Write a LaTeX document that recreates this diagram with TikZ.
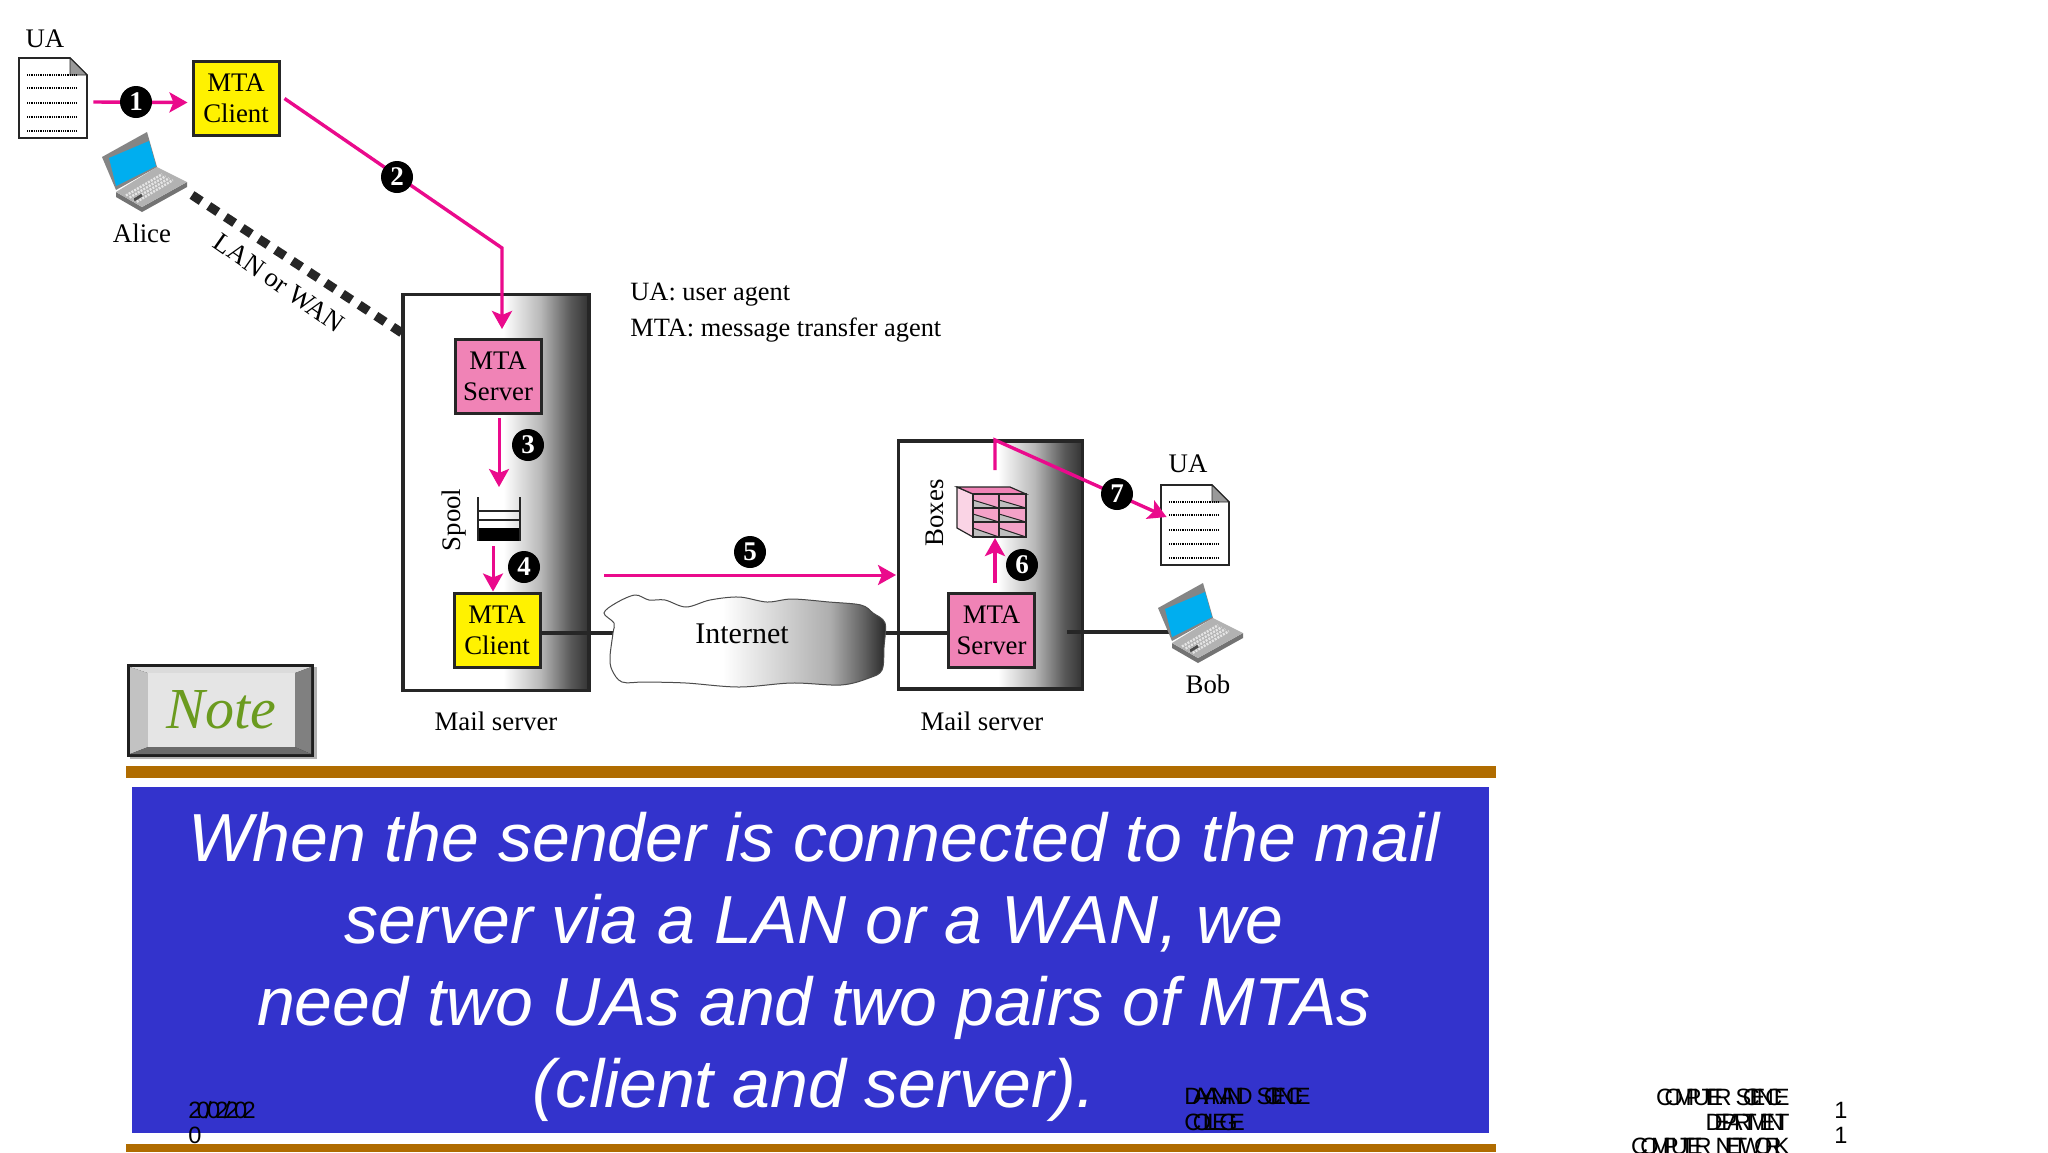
\documentclass[tikz,border=0pt]{standalone}
\usepackage{fontspec}
\setmainfont{Liberation Serif}
\newfontfamily\sansfont{Liberation Sans}
\newfontfamily\tightfont[LetterSpace=-36]{Liberation Sans}
\newfontfamily\looserfont[LetterSpace=-33]{Liberation Sans}
\newfontfamily\datefont[LetterSpace=-20]{Liberation Sans}
\usetikzlibrary{arrows.meta,calc}

\definecolor{flowpink}{HTML}{EA0A8C}
\definecolor{boxpink}{HTML}{F083B6}
\definecolor{boxyellow}{HTML}{FFF200}
\definecolor{barbrown}{HTML}{B06C00}
\definecolor{slideblue}{HTML}{3333CC}
\definecolor{notegreen}{HTML}{6B9B1F}
\definecolor{lapblue}{HTML}{00AEEF}

\pgfdeclarehorizontalshading{srvfade}{100bp}{
  color(0bp)=(white); color(52bp)=(white); color(62bp)=(black!28);
  color(70bp)=(black!65); color(75bp)=(black!80); color(100bp)=(black!80)}
\pgfdeclarehorizontalshading{cloudfade}{100bp}{
  color(0bp)=(white); color(46bp)=(white); color(65bp)=(black!32);
  color(71bp)=(black!62); color(75bp)=(black!85); color(100bp)=(black!85)}

\tikzset{
  txt/.style={font=\fontsize{13.4}{15.5}\selectfont, inner sep=0pt, align=center},
  mta/.style={draw=black!85, line width=1.5pt, inner sep=0pt, minimum width=43pt, minimum height=37pt, txt},
  server/.style={draw=black!85, line width=1.75pt, shading=srvfade, inner sep=0pt},
  flow/.style={draw=flowpink, line width=1.7pt, -{Stealth[length=9pt,width=10pt,inset=2pt]}},
  wire/.style={draw=black!85, line width=1.7pt},
  badge/.style={circle, fill=black, text=white, inner sep=0pt, minimum size=16pt,
    font=\bfseries\fontsize{13.5}{13.5}\selectfont},
  foot/.style={font=\tightfont\fontsize{11.8}{11.8}\selectfont, inner sep=0pt, text=black},
}

% page of text with folded corner, x y = top left
\newcommand{\docicon}[3]{
  \begin{scope}[shift={(#2,#3)}]
    \node[minimum width=34pt, minimum height=40pt, inner sep=0pt] (#1) at (34,40) {};
    \draw[fill=white, draw=black!85, line width=.8pt] (0,0) -- (51,0) -- (68,17) -- (68,80) -- (0,80) -- cycle;
    \draw[fill=black!40, draw=black!85, line width=.4pt] (51,0) -- (68,17) -- (51,17) -- cycle;
    \foreach \yy in {17,30,45,59,73}
      \draw[black, line width=.7pt, dash pattern=on .5pt off .4pt] (8,\yy) -- (58,\yy);
  \end{scope}
}

% laptop, x y = left corner of the lid
\newcommand{\laptopicon}[3]{
  \begin{scope}[shift={(#2,#3)}]
    \coordinate (#1) at (7,24);
    \fill[black!55] (14,35) -- (14,40) -- (40,55) -- (85,30) -- (85,25) -- (40,50) -- cycle;
    \fill[black!30] (14,35) -- (55,10) -- (85,25) -- (40,50) -- cycle;
    \foreach \tpos in {0.25,0.4,0.55,0.7}
      \draw[black!10, line width=1.2pt, dash pattern=on 1pt off .6pt]
        ($(18,35)!\tpos!(42,49)$) -- ($(54,14)!\tpos!(78,27)$);
    \draw[black!70, line width=1.4pt] (32,43) -- (40,38);
    \fill[black!48] (0,0) -- (45,-25) -- (55,10) -- (14,33) -- cycle;
    \fill[lapblue] (7,1) -- (47,-16) -- (54,9) -- (14,29) -- cycle;
  \end{scope}
}

\begin{document}
\begin{tikzpicture}[x=0.5pt, y=-0.5pt]
\clip (0,0) rectangle (2048,1152);
\fill[white] (0,0) rectangle (2048,1152);

% icons, left side
\node[txt] (ualeft) at (45,39) {UA};
\docicon{docleft}{19}{58}
\laptopicon{alice}{102}{157}
\node[txt] (alicetext) at (142,233) {Alice};
\node[mta, fill=boxyellow] (clienta) at (236,98.5) {MTA\\Client};

% mail server boxes
\node[server, minimum width=93pt, minimum height=198pt] (srva) at (496,492.5) {};
\node[server, minimum width=92pt, minimum height=124pt] (srvb) at (990.5,565) {};

% LAN or WAN
\coordinate (lanfrom) at (192,195);
\coordinate (lanto) at (402,333);
\draw[black!85, line width=4.5pt, dash pattern=on 5.5pt off 4.5pt] (lanfrom) -- (lanto);
\node[txt, rotate=-35] (lantext) at (279,283) {LAN or WAN};

\node[mta, fill=boxpink] (servera) at (498,376.5) {MTA\\Server};
\node[mta, fill=boxyellow] (clientb) at (497,630) {MTA\\Client};
\node[mta, fill=boxpink] (serverb) at (991.5,630) {MTA\\Server};

% spool
\node[txt, rotate=90] (spooltext) at (454,520) {Spool};
\fill[black] (478,528) rectangle (520,541);
\draw[black!85, line width=.8pt] (478,497) -- (478,541) (520,497) -- (520,541)
  (478,511) -- (520,511) (478,520) -- (520,520);

% mailboxes
\node[txt, rotate=90] (boxtext) at (935,513) {Boxes};
\fill[boxpink!35, draw=black!85, line width=.6pt] (957,487) -- (973,494) -- (973,537) -- (957,528) -- cycle;
\fill[boxpink, draw=black!85, line width=.6pt] (957,487) -- (1010,487) -- (1026,494) -- (973,494) -- cycle;
\foreach \xa/\xb in {973/999,999/1026}
  \foreach \ya/\yb in {494/508,508/522,522/537} {
    \fill[boxpink!75] (\xa,\ya) rectangle (\xb,\yb);
    \fill[black!25] (\xa,\ya+6) -- (\xb,\yb) -- (\xa,\yb) -- cycle;
    \draw[black!85, line width=.5pt] (\xa,\ya+6) -- (\xb,\yb);
    \draw[black!85, line width=.6pt] (\xa,\ya) rectangle (\xb,\yb);
  }

% right side icons
\node[txt] (uaright) at (1188,464) {UA};
\docicon{docright}{1161}{485}
\coordinate (boblan) at (1067,632);
\coordinate (bobend) at (1170,632);
\draw[wire] (boblan) -- (bobend);
\laptopicon{bob}{1158}{608}
\node[txt] (bobtext) at (1208,684) {Bob};

% wires and cloud
\coordinate (cloudin) at (614,633);
\coordinate (cloudout) at (880,633);
\draw[wire] ([yshift=-1.5pt]clientb.east) -- (cloudin);
\draw[wire] (cloudout) -- ([yshift=-1.5pt]serverb.west);
\path[shading=cloudfade, draw=black!70, line width=.5pt] plot[smooth cycle, tension=.55] coordinates {
  (604,613) (616,603) (635,595) (649,600) (665,600) (686,607) (710,600) (739,597)
  (767,602) (792,599) (829,602) (861,605) (873,613) (885,623) (884,647) (882,670)
  (869,678) (841,685) (792,683) (739,687) (686,683) (645,682) (622,682) (612,670)
  (610,657) (613,633) (614,623)};
\node[txt, font=\fontsize{15}{15}\selectfont] (internet) at (742,634) {Internet};

% message path
\coordinate (knee) at (502,248);
\coordinate (fivefrom) at (604,575);
\coordinate (fiveto) at (896,575);
\coordinate (spoolin) at (499,487);
\coordinate (spoolout) at (493,546);
\coordinate (boxin) at (995,538);
\coordinate (sevenfoot) at (995,470);
\coordinate (sevenknee) at (995,440);
\draw[flow] ([xshift=3pt,yshift=-2pt]docleft.east) -- ([xshift=-2pt,yshift=-2pt]clienta.west);
\draw[flow] ([xshift=2pt]clienta.east) -- (knee) -- ([xshift=2pt,yshift=4.5pt]servera.north);
\draw[flow, line width=1.5pt] ([xshift=.5pt,yshift=-1.5pt]servera.south) -- (spoolin);
\draw[flow, line width=1.5pt] (spoolout) -- ([xshift=-2pt]clientb.north);
\draw[flow, line width=1.5pt] (fivefrom) -- (fiveto);
\draw[flow, line width=2pt] ([xshift=1.75pt,yshift=4.5pt]serverb.north) -- (boxin);
\draw[flow] (sevenfoot) -- (sevenknee) -- ([xshift=3pt,yshift=4pt]docright.west);

\node[badge] (n1) at (136,102) {1};
\node[badge] (n2) at (397,177) {2};
\node[badge] (n3) at (528,445) {3};
\node[badge] (n4) at (524,567) {4};
\node[badge] (n5) at (750,552) {5};
\node[badge] (n6) at (1022,565) {6};
\node[badge] (n7) at (1117,494) {7};

% legend, captions
\node[txt, anchor=west, font=\fontsize{13.2}{13.2}\selectfont] (leg1) at (630,295) {UA: user agent};
\node[txt, anchor=west, font=\fontsize{13.2}{13.2}\selectfont] (leg2) at (630,330) {MTA: message transfer agent};
\node[txt] (capa) at (496,721) {Mail server};
\node[txt] (capb) at (982,721) {Mail server};

% note button
\fill[black!30] (130,667) rectangle (317,759);
\fill[black!88] (127,664) rectangle (314,757);
\fill[black!14] (130,667) -- (311,667) -- (295,673) -- (148,673) -- cycle;
\fill[black!24] (130,667) -- (148,673) -- (148,747) -- (130,754) -- cycle;
\fill[black!50] (311,667) -- (295,673) -- (295,747) -- (311,754) -- cycle;
\fill[black!58] (130,754) -- (148,747) -- (295,747) -- (311,754) -- cycle;
\node[fill=black!10, minimum width=73.5pt, minimum height=37pt, inner sep=0pt,
  text=notegreen, font=\itshape\fontsize{29}{29}\selectfont] (note) at (221.5,710) {Note};

% slide text panel
\fill[barbrown] (126,766) rectangle (1496,778);
\fill[barbrown] (126,1144) rectangle (1496,1152);
\node[fill=slideblue, minimum width=678.5pt, minimum height=173pt, inner sep=0pt] (panel) at (810.5,960) {};
\node[text=white, align=center, inner sep=0pt, font=\sansfont\itshape\fontsize{34}{41}\selectfont] (maintext) at (814,967)
  {When the sender is connected to the mail\\server via a LAN or a WAN, we\\need two UAs and two pairs of MTAs\\(client and server).};

% footer
\node[foot, anchor=west, font=\datefont\fontsize{11.8}{11.8}\selectfont] (date1) at (188,1110) {20/02/202};
\node[foot, anchor=west] (date2) at (188,1135) {0};
\node[foot, anchor=west] (coll1) at (1184,1096) {DAYANAND\hspace{2pt}SCIENCE};
\node[foot, anchor=west] (coll2) at (1184,1122) {COLLEGE};
\node[foot, anchor=east] (dept1) at (1790,1097) {COMPUTER\hspace{2pt}SCIENCE};
\node[foot, anchor=east] (dept2) at (1790,1122) {DEPARTMENT};
\node[foot, anchor=east, font=\looserfont\fontsize{11.8}{11.8}\selectfont] (dept3) at (1790,1146) {COMPUTER\hspace{2pt}NETWORK};
\node[foot, anchor=center] (pg1) at (1841,1110) {1};
\node[foot, anchor=center] (pg2) at (1841,1135) {1};
\end{tikzpicture}
\end{document}
